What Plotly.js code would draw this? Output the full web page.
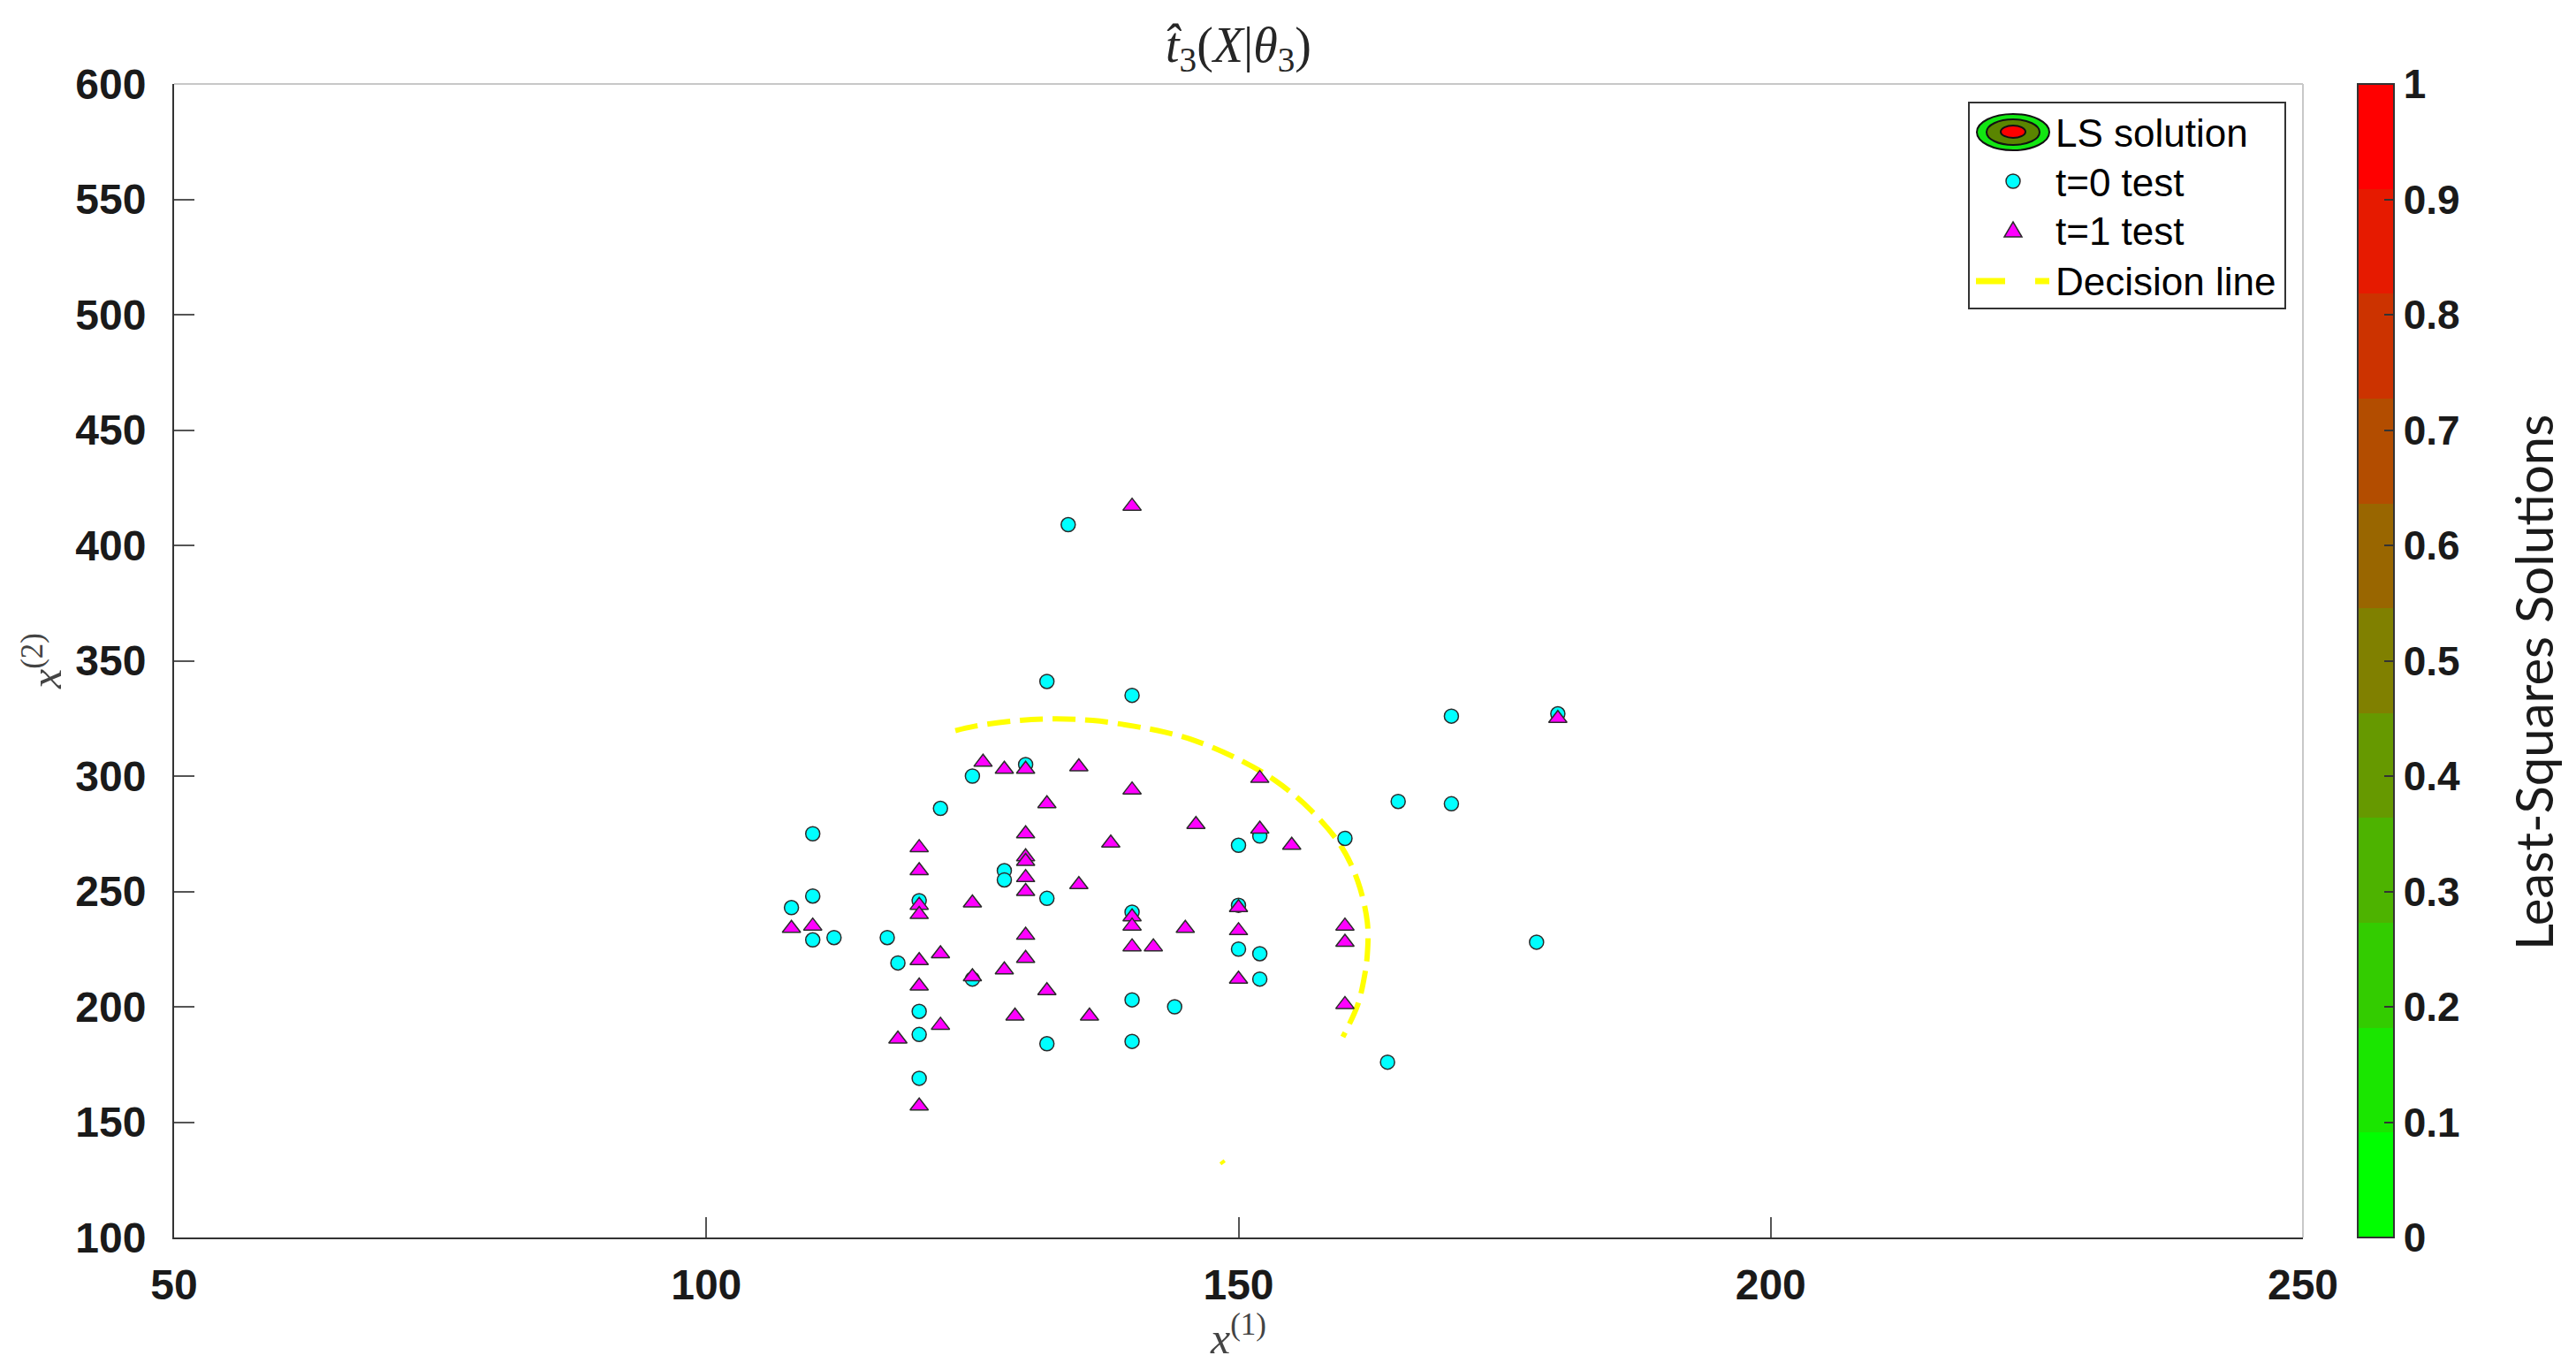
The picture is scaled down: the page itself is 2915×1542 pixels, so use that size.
<!DOCTYPE html>
<html>
<head>
<meta charset="utf-8">
<script src="https://cdn.plot.ly/plotly-3.0.1.min.js"></script>
<style>
  html, body { margin: 0; padding: 0; background: #fff; }
  #plot { width: 2915px; height: 1542px; }
</style>
</head>
<body>
<div id="plot"></div>
<script>
// t=0 test points (cyan circles)
var t0X = [134, 132, 140, 130, 125, 122, 110, 170, 180, 165, 170, 150, 152, 160, 128, 128, 132, 110, 108, 120,
           140, 150, 110, 112, 117, 118, 125, 150, 152, 152, 178, 140, 144, 120, 120, 132, 140, 164, 120];
var t0Y = [409, 341, 335, 305, 300, 286, 275, 326, 327, 289, 288, 270, 274, 273, 259, 255, 247, 248, 243, 246,
           241, 244, 229, 230, 230, 219, 212, 225, 223, 212, 228, 203, 200, 198, 188, 184, 185, 176, 169];

// t=1 test points (magenta triangles)
var t1X = [140, 126, 128, 130, 135, 140, 132, 152, 130, 146, 152, 138, 120, 155, 130, 130, 120, 130, 135, 130,
           125, 120, 120, 150, 140, 140, 108, 110, 145, 150, 160, 160, 140, 142, 130, 122, 120, 130, 128, 125,
           150, 120, 132, 160, 129, 136, 122, 118, 120, 180];
var t1Y = [417, 306, 303, 303, 304, 294, 288, 299, 275, 279, 277, 271, 269, 270, 265, 263, 259, 256, 253, 250,
           245, 244, 240, 243, 239, 235, 234, 235, 234, 233, 235, 228, 226, 226, 231, 223, 220, 221, 216, 213,
           212, 209, 207, 201, 196, 196, 192, 186, 157, 325];

// decision line (dashed yellow curve), null splits the stray fragment
var decX = [123.4, 125.2, 129.4, 132.9, 136.3, 140.2, 143.1, 146.0, 149.9, 153.5, 156.8, 159.6, 161.2, 162.1,
            162.1, 161.8, 161.2, 159.8, null, 148.4, 148.6];
var decY = [319.7, 321.6, 324.1, 324.8, 324.1, 321.6, 319.0, 315.2, 307.5, 297.9, 285.2, 269.9, 254.5, 236.7,
            222.6, 212.4, 200.9, 186.9, null, 133.2, 132.0];

// colorbar bands (green -> red) and ticks
var bandColors = ['#00ff00', '#1ae600', '#33cc00', '#4db300', '#669900', '#808000',
                  '#996600', '#b34d00', '#cc3300', '#e61a00', '#ff0000'];
var cbTicks = [0, 0.1, 0.2, 0.3, 0.4, 0.5, 0.6, 0.7, 0.8, 0.9, 1];
var cbTickText = ['0', '0.1', '0.2', '0.3', '0.4', '0.5', '0.6', '0.7', '0.8', '0.9', '1'];

var xTicks = [50, 100, 150, 200, 250];
var yTicks = [100, 150, 200, 250, 300, 350, 400, 450, 500, 550, 600];

// step colorscale from the band list
var colorscale = [];
bandColors.forEach(function (c, i) {
  colorscale.push([i / bandColors.length, c]);
  colorscale.push([(i + 1) / bandColors.length, c]);
});

// plot box in pixels
var W = 2915, H = 1542;
var L = 197, R = 2606, T = 95, B = 1400;
function px(x) { return (x - L) / (R - L); }
function py(y) { return (B - y) / (B - T); }

var tickFont = {family: 'Liberation Sans, Arial, sans-serif', size: 48, color: '#1a1a1a', weight: 'bold'};
var serif = 'Liberation Serif, Times New Roman, serif';

var traces = [
  {
    x: [null], y: [null], type: 'scatter', mode: 'markers', showlegend: false, hoverinfo: 'skip',
    marker: {
      color: [0], cmin: 0, cmax: 1, colorscale: colorscale, showscale: true, opacity: 0,
      colorbar: {
        x: (2668 - L) / (R - L), xanchor: 'left', xpad: 0, ypad: 0,
        y: 0.5, yanchor: 'middle', len: 1, lenmode: 'fraction',
        thickness: 41, thicknessmode: 'pixels',
        outlinecolor: '#333', outlinewidth: 2,
        tickmode: 'array', tickvals: cbTicks, ticktext: cbTickText,
        ticks: 'inside', ticklen: 12, tickwidth: 2, tickcolor: '#333',
        tickfont: {family: 'Liberation Sans, Arial, sans-serif', size: 46, color: '#1a1a1a', weight: 'bold'}
      }
    }
  },
  {
    x: decX, y: decY, type: 'scatter', mode: 'lines', showlegend: false, hoverinfo: 'skip',
    line: {color: '#ffff00', width: 6, dash: '26px,11px', shape: 'spline'}
  },
  {
    x: t0X, y: t0Y, type: 'scatter', mode: 'markers', name: 't=0 test', showlegend: false,
    marker: {symbol: 'circle', size: 16, color: '#00ffff', line: {color: '#2b2b2b', width: 1.5}}
  },
  {
    x: t1X, y: t1Y, type: 'scatter', mode: 'markers', name: 't=1 test', showlegend: false,
    marker: {symbol: 'triangle-up', size: 18, color: '#ff00ff', line: {color: '#2b2b2b', width: 1.5}}
  }
];

// legend drawn by hand so the LS solution icon (nested ellipses) can be reproduced
var shapes = [
  // light box edges top and right
  {type: 'line', xref: 'paper', yref: 'paper', x0: 0, x1: 1, y0: 1, y1: 1, line: {color: '#c8c8c8', width: 2}},
  {type: 'line', xref: 'paper', yref: 'paper', x0: 1, x1: 1, y0: 0, y1: 1, line: {color: '#c8c8c8', width: 2}},
  // legend box
  {type: 'rect', xref: 'paper', yref: 'paper', x0: px(2228), x1: px(2586), y0: py(349), y1: py(116),
   fillcolor: '#ffffff', line: {color: '#333', width: 2}},
  // LS solution icon
  {type: 'circle', xref: 'paper', yref: 'paper', x0: px(2237), x1: px(2319), y0: py(170), y1: py(129),
   fillcolor: '#12e612', line: {color: '#111', width: 2}},
  {type: 'circle', xref: 'paper', yref: 'paper', x0: px(2248), x1: px(2308), y0: py(164), y1: py(135),
   fillcolor: '#5a8500', line: {color: '#111', width: 2}},
  {type: 'circle', xref: 'paper', yref: 'paper', x0: px(2264), x1: px(2292), y0: py(156), y1: py(142),
   fillcolor: '#ff0000', line: {color: '#111', width: 2}},
  // t=0 icon
  {type: 'circle', xref: 'paper', yref: 'paper', x0: px(2270), x1: px(2286), y0: py(213), y1: py(197),
   fillcolor: '#00ffff', line: {color: '#2b2b2b', width: 1.5}},
  // t=1 icon
  {type: 'path', xref: 'paper', yref: 'paper',
   path: 'M ' + px(2268) + ' ' + py(268) + ' L ' + px(2288) + ' ' + py(268) + ' L ' + px(2278) + ' ' + py(251) + ' Z',
   fillcolor: '#ff00ff', line: {color: '#2b2b2b', width: 1.5}},
  // decision line icon
  {type: 'line', xref: 'paper', yref: 'paper', x0: px(2236), x1: px(2269), y0: py(318), y1: py(318),
   line: {color: '#ffff00', width: 7}},
  {type: 'line', xref: 'paper', yref: 'paper', x0: px(2303), x1: px(2319), y0: py(318), y1: py(318),
   line: {color: '#ffff00', width: 7}}
];

var legFont = {family: 'Liberation Sans, Arial, sans-serif', size: 44, color: '#000'};
function legText(txt, yPix) {
  return {text: txt, xref: 'paper', yref: 'paper', x: px(2324), y: py(yPix), xanchor: 'left', yanchor: 'middle',
          showarrow: false, font: legFont};
}

var annotations = [
  legText('LS solution', 150),
  legText('t=0 test', 206),
  legText('t=1 test', 262),
  legText('Decision line', 318),
  {text: 'Least-Squares Solutions', xref: 'paper', yref: 'paper', x: px(2866), y: py(772),
   xanchor: 'center', yanchor: 'middle', textangle: -90, showarrow: false,
   font: {family: 'Lato, sans-serif', size: 58, color: '#1a1a1a'}}
];

var layout = {
  width: W, height: H,
  margin: {l: L, r: W - R, t: T, b: H - B, pad: 0},
  paper_bgcolor: '#ffffff', plot_bgcolor: '#ffffff',
  showlegend: false,
  title: {
    text: '<i>t&#770;</i><sub>3</sub>(<i>X</i>|<i>θ</i><sub>3</sub>)',
    x: 0.5, xref: 'paper', xanchor: 'center', y: 1 - 50 / H, yanchor: 'middle',
    font: {family: serif, size: 56, color: '#262626'}
  },
  xaxis: {
    range: [50, 250], tickmode: 'array', tickvals: xTicks,
    ticks: 'inside', ticklen: 23, tickwidth: 2, tickcolor: '#555',
    showline: true, linecolor: '#333', linewidth: 2, mirror: false,
    showgrid: false, zeroline: false, tickfont: tickFont, ticklabelstandoff: 10,
    title: {text: '<i>x</i><sup>(1)</sup>', standoff: 6, font: {family: serif, size: 50, color: '#444'}}
  },
  yaxis: {
    range: [100, 600], tickmode: 'array', tickvals: yTicks,
    ticks: 'inside', ticklen: 23, tickwidth: 2, tickcolor: '#555',
    showline: true, linecolor: '#333', linewidth: 2, mirror: false,
    showgrid: false, zeroline: false, tickfont: tickFont, ticklabelstandoff: 20,
    title: {text: '<i>x</i><sup>(2)</sup>', standoff: 0, font: {family: serif, size: 50, color: '#444'}}
  },
  shapes: shapes,
  annotations: annotations
};

Plotly.newPlot('plot', traces, layout, {displayModeBar: false, staticPlot: true});
</script>
</body>
</html>
